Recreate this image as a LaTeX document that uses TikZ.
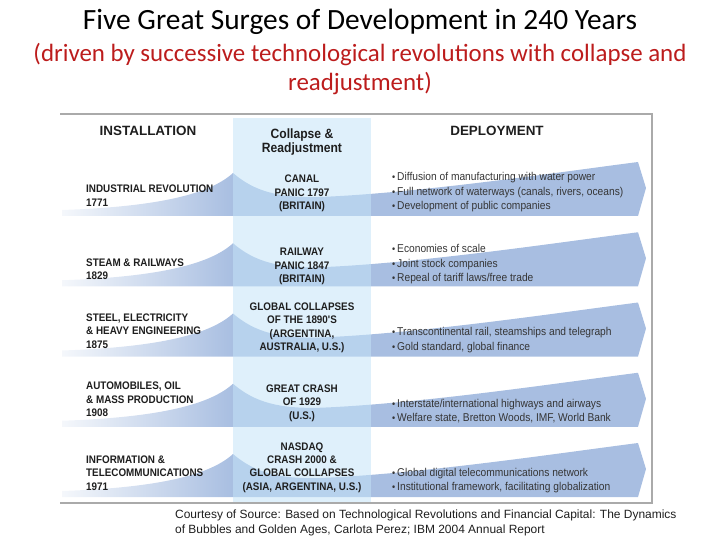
\documentclass[tikz,border=0pt]{standalone}
\usepackage{fontspec}
\setmainfont{Carlito}
\newfontfamily\condfont[FakeStretch=0.9]{Liberation Sans}
\newfontfamily\arialfont{Liberation Sans}
\definecolor{titlered}{RGB}{188,28,28}
\definecolor{bandblue}{RGB}{168,190,225}
\definecolor{colblue}{RGB}{196,228,248}
\definecolor{framegray}{RGB}{170,170,170}
\definecolor{inkgray}{RGB}{30,30,30}
\pgfdeclarehorizontalshading{bandshade}{100bp}{color(0bp)=(bandblue!12); color(25bp)=(bandblue!12); color(39.7bp)=(bandblue); color(100bp)=(bandblue)}
\newcommand\bulpt{{\fontsize{10}{10}\selectfont\textbullet}\,}
\tikzset{
  lab/.style={font=\condfont\bfseries\fontsize{11}{13.5}\selectfont, text=inkgray, align=left, anchor=west, inner sep=0},
  cra/.style={font=\condfont\bfseries\fontsize{11}{13.5}\selectfont, text=inkgray, align=center, inner sep=0},
  dep/.style={font=\condfont\fontsize{11.4}{14.5}\selectfont, text=inkgray!90, align=left, anchor=west, inner sep=0},
  head/.style={font=\arialfont\bfseries\fontsize{13.5}{16}\selectfont, text=inkgray, inner sep=0}
}
\begin{document}
\begin{tikzpicture}[x=1bp, y=-1bp]
\useasboundingbox (0,0) rectangle (720,540);
% Titre
\node[font=\fontsize{29.5}{32}\selectfont] (ttl) at (360,22) {Five Great Surges of Development in 240 Years};
\node[font=\fontsize{25}{30}\selectfont, text=titlered, align=center] (sub) at (360,69) {(driven by successive technological revolutions with collapse and\\readjustment)};
% Bandes (vagues + flèches)
\foreach \i in {0,...,4} {
\pgfmathsetmacro\yb{216+70.25*\i}
\shade[shading=bandshade] (62,\yb) -- (62,\yb-6) .. controls (150,\yb-9) and (208,\yb-20) .. (233,\yb-43) .. controls (255,\yb-24) and (280,\yb-18) .. (320,\yb-19) .. controls (420,\yb-23) and (560,\yb-44) .. (638,\yb-54) -- (646,\yb-28) -- (638,\yb) -- cycle;
}
% Colonne centrale
\fill[colblue, opacity=0.55] (233,118) rectangle (371,502);
% Cadre
\draw[framegray, line width=1.2bp] (60,114) -- (652,114) -- (652,503) -- (60,503);
% En-têtes
\node[head] (inst) at (148,131) {INSTALLATION};
\node[cra, font=\condfont\bfseries\fontsize{13.5}{14.5}\selectfont] (coll) at (302,142) {Collapse \&\\Readjustment};
\node[head] (depl) at (497,131) {DEPLOYMENT};
% Label gauche
\foreach \i/\yc/\txt in {1/195.5/{INDUSTRIAL REVOLUTION\\1771}, 2/269.5/{STEAM \& RAILWAYS\\1829}, 3/331/{STEEL, ELECTRICITY\\\& HEAVY ENGINEERING\\1875}, 4/399.5/{AUTOMOBILES, OIL\\\& MASS PRODUCTION\\1908}, 5/473/{INFORMATION \&\\TELECOMMUNICATIONS\\1971}} {
\node[lab] (lab\i) at (86,\yc) {\txt};
}
% Crises
\foreach \i/\yc/\txt in {1/193.5/{CANAL\\PANIC 1797\\(BRITAIN)}, 2/266.5/{RAILWAY\\PANIC 1847\\(BRITAIN)}, 3/328/{GLOBAL COLLAPSES\\OF THE 1890'S\\(ARGENTINA,\\AUSTRALIA, U.S.)}, 4/403/{GREAT CRASH\\OF 1929\\(U.S.)}, 5/467.5/{NASDAQ\\CRASH 2000 \&\\GLOBAL COLLAPSES\\(ASIA, ARGENTINA, U.S.)}} {
\node[cra] (cra\i) at (302,\yc) {\txt};
}
% Déploiement
\foreach \i/\yc/\txt in {1/192.5/{\bulpt Diffusion of manufacturing with water power\\\bulpt Full network of waterways (canals, rivers, oceans)\\\bulpt Development of public companies}, 2/264.5/{\bulpt Economies of scale\\\bulpt Joint stock companies\\\bulpt Repeal of tariff laws/free trade}, 3/340/{\bulpt Transcontinental rail, steamships and telegraph\\\bulpt Gold standard, global finance}, 4/411/{\bulpt Interstate/international highways and airways\\\bulpt Welfare state, Bretton Woods, IMF, World Bank}, 5/480.5/{\bulpt Global digital telecommunications network\\\bulpt Institutional framework, facilitating globalization}} {
\node[dep] (dep\i) at (392,\yc) {\txt};
}
% Source
\node[font=\arialfont\fontsize{12}{15}\selectfont, text=inkgray, align=left, anchor=west, inner sep=0] (src) at (175,522.5) {Courtesy of Source: Based on Technological Revolutions and Financial Capital: The Dynamics\\of Bubbles and Golden Ages, Carlota Perez; IBM 2004 Annual Report};
\end{tikzpicture}
\end{document}
